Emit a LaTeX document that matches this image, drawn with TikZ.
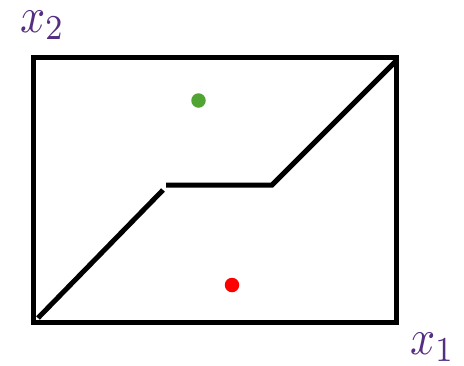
\documentclass[tikz,border=0pt]{standalone}
\usepackage{amsmath}
\usepackage{graphicx}
\newcommand{\biglbl}[1]{\scalebox{4.4}[5.0]{$#1$}}
\begin{document}
\begin{tikzpicture}[x=1pt,y=-1pt,
  edge/.style={line width=5pt},
  lbl/.style={text=axispurple,inner sep=0pt},
  dot/.style={circle,inner sep=0pt,minimum size=14.5pt}]
\definecolor{axispurple}{RGB}{84,46,130}
\definecolor{dotgreen}{RGB}{80,165,50}
\definecolor{dotred}{RGB}{255,0,0}
\useasboundingbox (0,0) rectangle (464,365);
\draw[edge] (33,57.5) rectangle (396.5,322);
\coordinate (a) at (38,318);
\coordinate (b) at (163,190);
\coordinate (c) at (166,185);
\coordinate (d) at (272,185);
\coordinate (e) at (396,61);
\draw[edge] (a) -- (b);
\draw[edge] (c) -- (d) -- (e);
\node[dot,fill=dotgreen] (g) at (198.5,100.5) {};
\node[dot,fill=dotred] (r) at (232,285) {};
\node[lbl] (x2) at (42.5,25) {\biglbl{x_2}};
\node[lbl] (x1) at (432.5,347) {\biglbl{x_1}};
\end{tikzpicture}
\end{document}
